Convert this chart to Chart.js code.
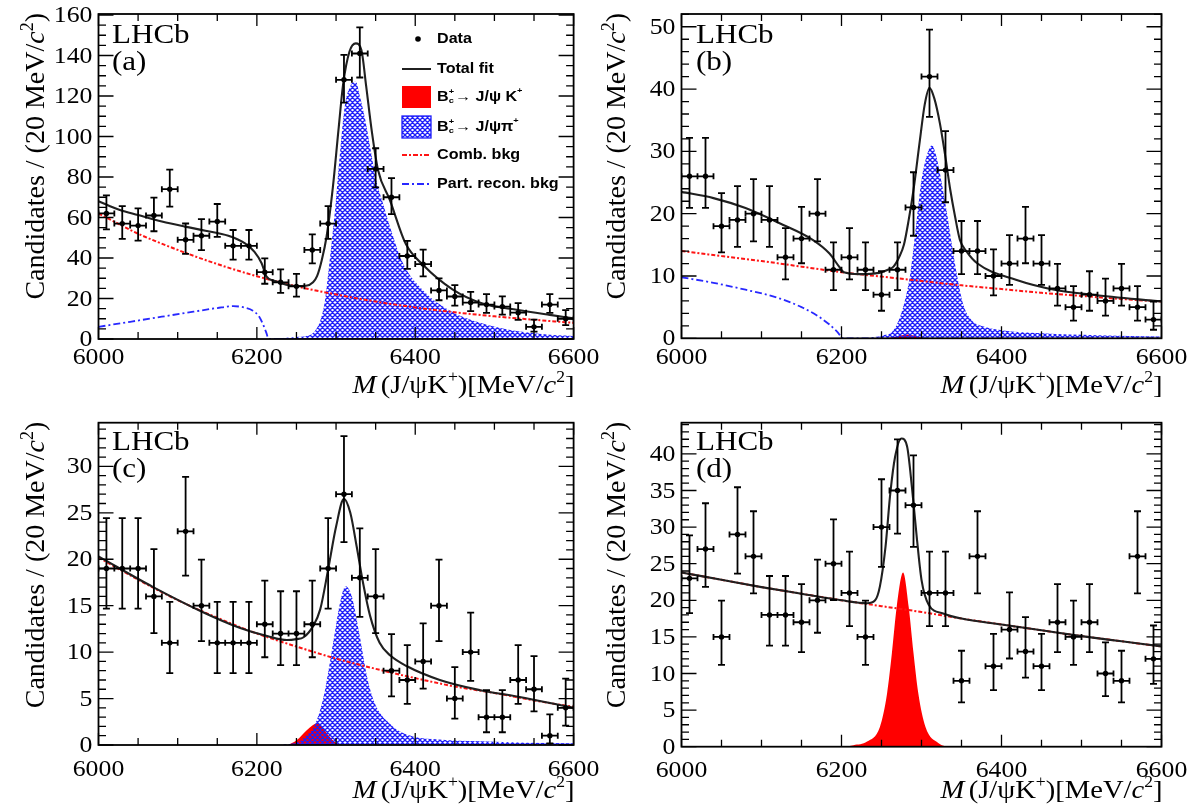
<!DOCTYPE html>
<html><head><meta charset="utf-8">
<script src="https://cdn.jsdelivr.net/npm/chart.js@4.4.0/dist/chart.umd.min.js"></script>
<style>
html,body{margin:0;padding:0;background:#fff;}
#wrap{position:relative;width:1189px;height:807px;overflow:hidden;background:#fff;}
#wrap canvas{position:absolute;left:0;top:0;}
</style></head><body>
<div id="wrap">
<canvas id="ca" width="1189" height="807"></canvas>
<canvas id="cb" width="1189" height="807"></canvas>
<canvas id="cc" width="1189" height="807"></canvas>
<canvas id="cd" width="1189" height="807"></canvas>
</div>
<script>
// ---------------- DATA ----------------
const binWidth = 20;
const binCenters = [6010,6030,6050,6070,6090,6110,6130,6150,6170,6190,6210,6230,6250,6270,6290,6310,6330,6350,6370,6390,6410,6430,6450,6470,6490,6510,6530,6550,6570,6590];
const xTicks = [6000, 6200, 6400, 6600];
const xMinorStep = 50;

// (a)
const countsA = [62,57,56,61,74,49,51,58,46,46,33,28,26,44,57,128,141,84,70,41,37,24,21,18,17,16,13,6,17,10];
const yTicksA = [0,20,40,60,80,100,120,140,160];
const aTotX = [6000,6027,6050,6080,6109,6135,6164,6185,6197,6206,6212,6223,6248,6262,6271,6276,6282,6288,6296,6303,6309,6317,6325,6332,6338,6345,6353,6368,6388,6410,6447,6485,6530,6570,6600];
const aTotY = [68,63.7,61.2,58,55.5,53.5,51,47.2,43,37.4,31,28.6,26.2,26.3,28,31,39,50.5,75,103,126,142,146,142.7,125,103,83.5,68.6,47,36.5,24.5,17.5,14.3,11.9,10.2];
const aCombX = [6000,6050,6100,6150,6200,6250,6300,6350,6400,6450,6500,6550,6600];
const aCombY = [62,52,44,37,31,26,22,18.5,15.6,13.2,11.2,9.5,8];
const aPartX = [6000,6040,6080,6120,6150,6170,6185,6195,6203,6208,6212,6215,6600];
const aPartY = [6,8.5,11,13.5,15.3,16.2,15.5,14,11,7,3,0,0];
const aPiX = [6215,6250,6262,6271,6280,6286,6292,6299,6305,6311,6318,6325,6330,6337,6343,6351,6360,6368,6385,6410,6444,6482,6520,6560,6600];
const aPiY = [0,1,1.5,3,9,19,39,65,92,115,125,127,120,108,95,78,66,55.5,37,24,14,8,4.5,2.5,1.5];

// (b)
const countsB = [26,26,18,19,20,19,13,16,20,11,13,11,7,11,21,42,27,14,14,10,12,16,12,8,5,7,6,8,5,3];
const yTicksB = [0,10,20,30,40,50];
const bTotX = [6000,6040,6080,6122,6164,6185,6197,6203,6222,6247,6258,6265,6272,6278,6284,6290,6298,6304,6310,6316,6323,6330,6336,6342,6348,6356,6370,6418,6466,6514,6600];
const bTotY = [23.5,22.5,20.9,18.5,15.8,13.6,11.5,10.6,10.3,10.5,11,11.5,13,15,19,23.8,31.8,37.5,40.2,38.5,34.5,29,23.8,19.5,15.8,14,12,9.4,7.8,7,5.9];
const bCombX = [6000,6050,6100,6150,6200,6250,6300,6350,6400,6450,6500,6550,6600];
const bCombY = [14,13.2,12.4,11.5,10.6,9.9,9.2,8.5,7.9,7.3,6.8,6.3,5.9];
const bPartX = [6000,6040,6080,6120,6150,6170,6185,6195,6202,6600];
const bPartY = [9.8,8.9,7.8,6.5,5,3.6,2.2,1,0,0];
const bPiX = [6230,6252,6265,6277,6286,6294,6300,6307,6313,6318,6323,6332,6338,6344,6352,6362,6380,6400,6450,6520,6600];
const bPiY = [0,0.5,1.3,5,10.4,19,25.4,29.5,31,29.5,26.5,20,15,10.4,5.5,3,1.8,1.3,0.8,0.5,0.3];
const bKX = [6255,6270,6282,6294,6305];
const bKY = [0,0.3,0.6,0.3,0];

// (c)
const countsC = [19,19,19,16,11,23,15,11,11,11,13,12,12,13,19,27,18,16,8,7,9,15,5,10,3,3,7,6,1,4];
const yTicksC = [0,5,10,15,20,25,30];
const cTotX = [6000,6069,6132,6179,6214,6238,6250,6259,6271,6280,6290,6300,6310,6318,6326,6334,6343,6355,6369,6389,6431,6482,6530,6600];
const cTotY = [20.3,17,14.3,12.6,11.7,11.3,11.4,11.6,12.8,14.6,18.9,23.5,26.5,25,21.4,17.5,13.9,11,9.6,8.5,7,5.9,5.2,4];
const cCombX = [6000,6050,6100,6150,6200,6250,6300,6350,6400,6450,6500,6550,6600];
const cCombY = [20.2,17.8,15.6,13.7,12.0,10.6,9.3,8.2,7.2,6.3,5.6,4.8,4.1];
const cPiX = [6230,6254,6262,6271,6280,6286,6292,6299,6305,6312,6318,6322,6330,6339,6347,6355,6368,6380,6398,6430,6482,6540,6600];
const cPiY = [0,0.4,1,1.8,3.8,5.9,8.8,12.4,15.3,17.1,16.5,15.3,11.7,7.4,4.9,3.5,2.3,1.5,0.9,0.6,0.4,0.25,0.2];
const cKX = [6240,6250,6263,6270,6276,6282,6288,6295,6302];
const cKY = [0,0.5,1.6,2.1,2.35,2,1.3,0.6,0.1];

// (d)
const countsD = [23,27,15,29,26,18,18,17,20,25,21,15,30,35,33,21,21,9,26,11,16,13,11,17,15,17,10,9,26,12];
const yTicksD = [0,5,10,15,20,25,30,35,40];
const dTotX = [6000,6050,6100,6150,6200,6232,6242,6248,6255,6261,6267,6275,6282,6288,6294,6300,6309,6327,6350,6400,6450,6500,6550,6600];
const dTotY = [23.8,22.8,21.8,20.9,20.0,19.6,20,21.9,27.3,34.6,39.6,42.1,41,35.5,28.7,22.8,19.4,18.2,17.5,16.7,15.9,15.1,14.4,13.7];
const dCombX = [6000,6050,6100,6150,6200,6250,6300,6350,6400,6450,6500,6550,6600];
const dCombY = [23.8,22.8,21.8,20.9,20.0,19.2,18.4,17.5,16.7,15.9,15.1,14.4,13.7];
const dKX = [6205,6215,6232,6248,6257,6263,6269,6277,6284,6290,6296,6305,6321,6330];
const dKY = [0,0.2,0.7,2.7,7.3,12.8,19.1,23.8,19.1,12.8,7.3,2.7,0.5,0];

// ---------------- DRAWING ----------------
const SERIF = '"Liberation Serif","Times New Roman",serif';
const SANS = '"Liberation Sans",Arial,sans-serif';

function xy(xs, ys){ return xs.map((x,i)=>({x:x, y:ys[i]})); }

// 68% Poisson (Garwood) interval, Wilson-Hilferty approximation
function poissonInterval(n){
  const lo = n <= 0 ? 0 : n*Math.pow(1 - 1/(9*n) - 1/(3*Math.sqrt(n)), 3);
  const m = n + 1;
  const hi = m*Math.pow(1 - 1/(9*m) + 1/(3*Math.sqrt(m)), 3);
  return [lo, hi];
}

function seg(t, f, o){ return Object.assign({t:t, f:f}, o||{}); }
function drawRich(ctx, segs, x, y, align, sx, baseline){
  ctx.save();
  ctx.translate(x, y); ctx.scale(sx||1, 1);
  ctx.textBaseline = baseline || 'alphabetic';
  ctx.textAlign = 'left';
  let w = 0;
  for (const s of segs){ ctx.font = s.f; if (!s.noAdv) w += ctx.measureText(s.t).width + (s.dx||0); }
  let cx = align === 'right' ? -w : (align === 'center' ? -w/2 : 0);
  for (const s of segs){
    ctx.font = s.f;
    ctx.fillText(s.t, cx + (s.dx||0), s.dy||0);
    if (!s.noAdv) cx += ctx.measureText(s.t).width + (s.dx||0);
  }
  ctx.restore();
}

function makeHatch(ctx){
  const t = document.createElement('canvas');
  t.width = 5; t.height = 5;
  const g = t.getContext('2d');
  g.strokeStyle = 'rgb(30,30,250)';
  g.lineWidth = 1.35;
  g.beginPath();
  for (const o of [-5,0,5]){
    g.moveTo(o,0); g.lineTo(o+5,5);
    g.moveTo(o,5); g.lineTo(o+5,0);
  }
  g.stroke();
  return ctx.createPattern(t, 'repeat');
}

const errPlugin = {
  id: 'errbars',
  afterDatasetsDraw(chart){
    const ds = chart.data.datasets[0];
    const xs = chart.scales.x, ys = chart.scales.y, ctx = chart.ctx, a = chart.chartArea;
    ctx.save();
    ctx.beginPath(); ctx.rect(a.left, a.top-1, a.right-a.left, a.bottom-a.top+2); ctx.clip();
    ctx.strokeStyle = '#000'; ctx.lineWidth = 1.8;
    ctx.beginPath();
    ds.data.forEach(pt => {
      const iv = poissonInterval(pt.y);
      const px = xs.getPixelForValue(pt.x), py = ys.getPixelForValue(pt.y);
      const x1 = xs.getPixelForValue(pt.x - binWidth/2), x2 = xs.getPixelForValue(pt.x + binWidth/2);
      const y1 = ys.getPixelForValue(iv[0]), y2 = ys.getPixelForValue(iv[1]);
      ctx.moveTo(px, y1); ctx.lineTo(px, y2);
      ctx.moveTo(x1, py); ctx.lineTo(x2, py);
      ctx.moveTo(px-3.5, y1); ctx.lineTo(px+3.5, y1);
      ctx.moveTo(px-3.5, y2); ctx.lineTo(px+3.5, y2);
      ctx.moveTo(x1, py-3); ctx.lineTo(x1, py+3);
      ctx.moveTo(x2, py-3); ctx.lineTo(x2, py+3);
    });
    ctx.stroke();
    ctx.restore();
  }
};

function makeFramePlugin(p){
  return {
    id: 'frame',
    afterDraw(chart){
      const ctx = chart.ctx, a = chart.chartArea, xs = chart.scales.x, ys = chart.scales.y;
      ctx.save();
      ctx.strokeStyle = '#000'; ctx.fillStyle = '#000';
      ctx.lineWidth = 1.3;
      ctx.beginPath();
      for (let k = 0; 6000 + k*xMinorStep <= 6600; k++){
        const v = 6000 + k*xMinorStep;
        const px = xs.getPixelForValue(v);
        const len = xTicks.includes(v) ? 12 : 7;
        ctx.moveTo(px, a.bottom); ctx.lineTo(px, a.bottom - len);
        ctx.moveTo(px, a.top); ctx.lineTo(px, a.top + len);
      }
      for (let k = 0; k*p.yMinor <= p.ymax + 1e-9; k++){
        const v = k*p.yMinor;
        const py = ys.getPixelForValue(v);
        const r = v / p.yMajor;
        const len = Math.abs(r - Math.round(r)) < 1e-6 ? 15 : 7.5;
        ctx.moveTo(a.left, py); ctx.lineTo(a.left + len, py);
        ctx.moveTo(a.right, py); ctx.lineTo(a.right - len, py);
      }
      ctx.stroke();
      ctx.lineWidth = 1.8;
      ctx.strokeRect(a.left, a.top, a.right - a.left, a.bottom - a.top);
      const TF = '23px ' + SERIF;
      p.yTicks.forEach(v => {
        drawRich(ctx, [seg(String(v), TF)], a.left - 6, ys.getPixelForValue(v) + 1, 'right', 1.12, 'middle');
      });
      xTicks.forEach(v => {
        drawRich(ctx, [seg(String(v), TF)], xs.getPixelForValue(v), p.xLabelY, 'center', 1.12, 'middle');
      });
      const XF = '26px ' + SERIF, XI = 'italic 26px ' + SERIF, XS = '16px ' + SERIF;
      drawRich(ctx, [
        seg('M', XI), seg('(J/\u03C8K', XF, {dx:4}), seg('+', XS, {dy:-11}), seg(')[MeV/', XF),
        seg('c', XI), seg('2', XS, {dy:-11}), seg(']', XF)
      ], a.right + 1, p.xTitleY, 'right', 1.1, 'alphabetic');
      ctx.save();
      ctx.translate(p.yTitleX, a.top - 1);
      ctx.rotate(-Math.PI/2);
      const YF = '28px ' + SERIF, YI = 'italic 28px ' + SERIF, YS = '18px ' + SERIF;
      drawRich(ctx, [seg('Candidates / (20 MeV/', YF), seg('c', YI), seg('2', YS, {dy:-11}), seg(')', YF)], 0, 0, 'right', 1, 'alphabetic');
      ctx.restore();
      const LF = '27px ' + SERIF;
      drawRich(ctx, [seg('LHCb', LF)], p.lhcbX, a.top + p.lhcbDy, 'left', 1.15, 'alphabetic');
      drawRich(ctx, [seg(p.tag, LF)], p.lhcbX, a.top + p.lhcbDy + 27, 'left', 1.15, 'alphabetic');
      if (p.legend) drawLegend(ctx, chart);
      ctx.restore();
    }
  };
}

function drawLegend(ctx, chart){
  const F = 'bold 14px ' + SANS, FS = 'bold 8px ' + SANS;
  const lx0 = 402, lx1 = 431, tx = 437, sx = 1.15;
  ctx.save();
  ctx.fillStyle = '#000';
  ctx.beginPath(); ctx.arc(418, 39, 2.8, 0, Math.PI*2); ctx.fill();
  drawRich(ctx, [seg('Data', F)], tx, 39, 'left', sx, 'middle');
  ctx.strokeStyle = '#202020'; ctx.lineWidth = 2;
  ctx.beginPath(); ctx.moveTo(lx0, 69); ctx.lineTo(lx1, 69); ctx.stroke();
  drawRich(ctx, [seg('Total fit', F)], tx, 69, 'left', sx, 'middle');
  ctx.fillStyle = '#ff0000'; ctx.fillRect(lx0, 86, lx1 - lx0, 22);
  ctx.fillStyle = '#000';
  drawRich(ctx, [seg('B', F), seg('+', FS, {dy:-5, noAdv:true}), seg('c', FS, {dy:4}), seg('\u2192 J/\u03C8 K', F, {dx:1}), seg('+', FS, {dy:-6})], tx, 97, 'left', sx, 'middle');
  ctx.fillStyle = makeHatch(ctx); ctx.fillRect(lx0, 116, lx1 - lx0, 22);
  ctx.strokeStyle = 'rgb(30,30,250)'; ctx.lineWidth = 1.3; ctx.strokeRect(lx0, 116, lx1 - lx0, 22);
  ctx.fillStyle = '#000';
  drawRich(ctx, [seg('B', F), seg('+', FS, {dy:-5, noAdv:true}), seg('c', FS, {dy:4}), seg('\u2192 J/\u03C8\u03C0', F, {dx:1}), seg('+', FS, {dy:-6})], tx, 127, 'left', sx, 'middle');
  ctx.strokeStyle = 'rgb(255,20,20)'; ctx.lineWidth = 2; ctx.setLineDash([5,2,2,2]);
  ctx.beginPath(); ctx.moveTo(lx0, 155); ctx.lineTo(lx1, 155); ctx.stroke();
  drawRich(ctx, [seg('Comb. bkg', F)], tx, 155, 'left', sx, 'middle');
  ctx.strokeStyle = 'rgb(40,40,255)'; ctx.setLineDash([7,3,2,3]);
  ctx.beginPath(); ctx.moveTo(lx0, 184); ctx.lineTo(lx1, 184); ctx.stroke();
  ctx.setLineDash([]);
  drawRich(ctx, [seg('Part. recon. bkg', F)], tx, 184, 'left', sx, 'middle');
  ctx.restore();
}

function panel(id, p){
  const canvas = document.getElementById(id);
  const c2d = canvas.getContext('2d');
  const datasets = [];
  datasets.push({label:'Data', data: xy(binCenters, p.counts), showLine:false, pointRadius:2.7, pointHoverRadius:2.7,
    pointBackgroundColor:'#000', pointBorderColor:'#000', pointBorderWidth:0, order:0});
  datasets.push({label:'Total fit', data: xy(p.totX, p.totY), borderColor:'#202020', borderWidth:2.1, pointRadius:0,
    fill:false, cubicInterpolationMode:'monotone', order:1});
  if (p.partX) datasets.push({label:'Part. recon. bkg', data: xy(p.partX, p.partY), borderColor:'rgb(40,40,255)', borderWidth:1.8,
    borderDash:[7,3,2,3], pointRadius:0, fill:false, cubicInterpolationMode:'monotone', order:2});
  datasets.push({label:'Comb. bkg', data: xy(p.combX, p.combY), borderColor:'rgb(255,20,20)', borderWidth:2,
    borderDash:[4,2,2,2], pointRadius:0, fill:false, cubicInterpolationMode:'monotone', order:3});
  if (p.piX) datasets.push({label:'pi', data: xy(p.piX, p.piY), borderWidth:0, borderColor:'rgba(0,0,0,0)',
    backgroundColor: makeHatch(c2d), fill:'origin', pointRadius:0, cubicInterpolationMode:'monotone', order:4});
  if (p.kX) datasets.push({label:'K', data: xy(p.kX, p.kY), borderWidth:0, borderColor:'rgba(0,0,0,0)',
    backgroundColor:'#ff0000', fill:'origin', pointRadius:0, cubicInterpolationMode:'monotone', order:5});
  return new Chart(canvas, {
    type:'line',
    data:{datasets: datasets},
    options:{
      responsive:false, animation:false, devicePixelRatio:1, events:[],
      layout:{padding:{left:p.L, top:p.T, right:1189 - p.R, bottom:807 - p.B}},
      scales:{
        x:{type:'linear', min:6000, max:6600, display:false},
        y:{type:'linear', min:0, max:p.ymax, display:false}
      },
      plugins:{legend:{display:false}, tooltip:{enabled:false}}
    },
    plugins:[errPlugin, makeFramePlugin(p)]
  });
}

panel('ca', {counts:countsA, totX:aTotX, totY:aTotY, combX:aCombX, combY:aCombY, partX:aPartX, partY:aPartY, piX:aPiX, piY:aPiY,
  L:98.5, R:573.6, T:14, B:339, ymax:160.5, yMajor:20, yMinor:5, yTicks:yTicksA,
  xLabelY:357.5, xTitleY:393, yTitleX:44, lhcbX:112, lhcbDy:29, tag:'(a)', legend:true});
panel('cb', {counts:countsB, totX:bTotX, totY:bTotY, combX:bCombX, combY:bCombY, partX:bPartX, partY:bPartY, piX:bPiX, piY:bPiY, kX:bKX, kY:bKY,
  L:681.5, R:1161.5, T:14, B:338.3, ymax:52.05, yMajor:10, yMinor:2, yTicks:yTicksB,
  xLabelY:357.5, xTitleY:393, yTitleX:625, lhcbX:696, lhcbDy:29, tag:'(b)'});
panel('cc', {counts:countsC, totX:cTotX, totY:cTotY, combX:cCombX, combY:cCombY, piX:cPiX, piY:cPiY, kX:cKX, kY:cKY,
  L:98.5, R:573.6, T:422.7, B:745, ymax:34.7, yMajor:5, yMinor:1, yTicks:yTicksC,
  xLabelY:770, xTitleY:798, yTitleX:44, lhcbX:112, lhcbDy:27, tag:'(c)'});
panel('cd', {counts:countsD, totX:dTotX, totY:dTotY, combX:dCombX, combY:dCombY, kX:dKX, kY:dKY,
  L:681.5, R:1161.5, T:422.7, B:746.7, ymax:44.26, yMajor:5, yMinor:1, yTicks:yTicksD,
  xLabelY:771, xTitleY:798, yTitleX:625, lhcbX:696, lhcbDy:27, tag:'(d)'});
</script>
</body></html>
